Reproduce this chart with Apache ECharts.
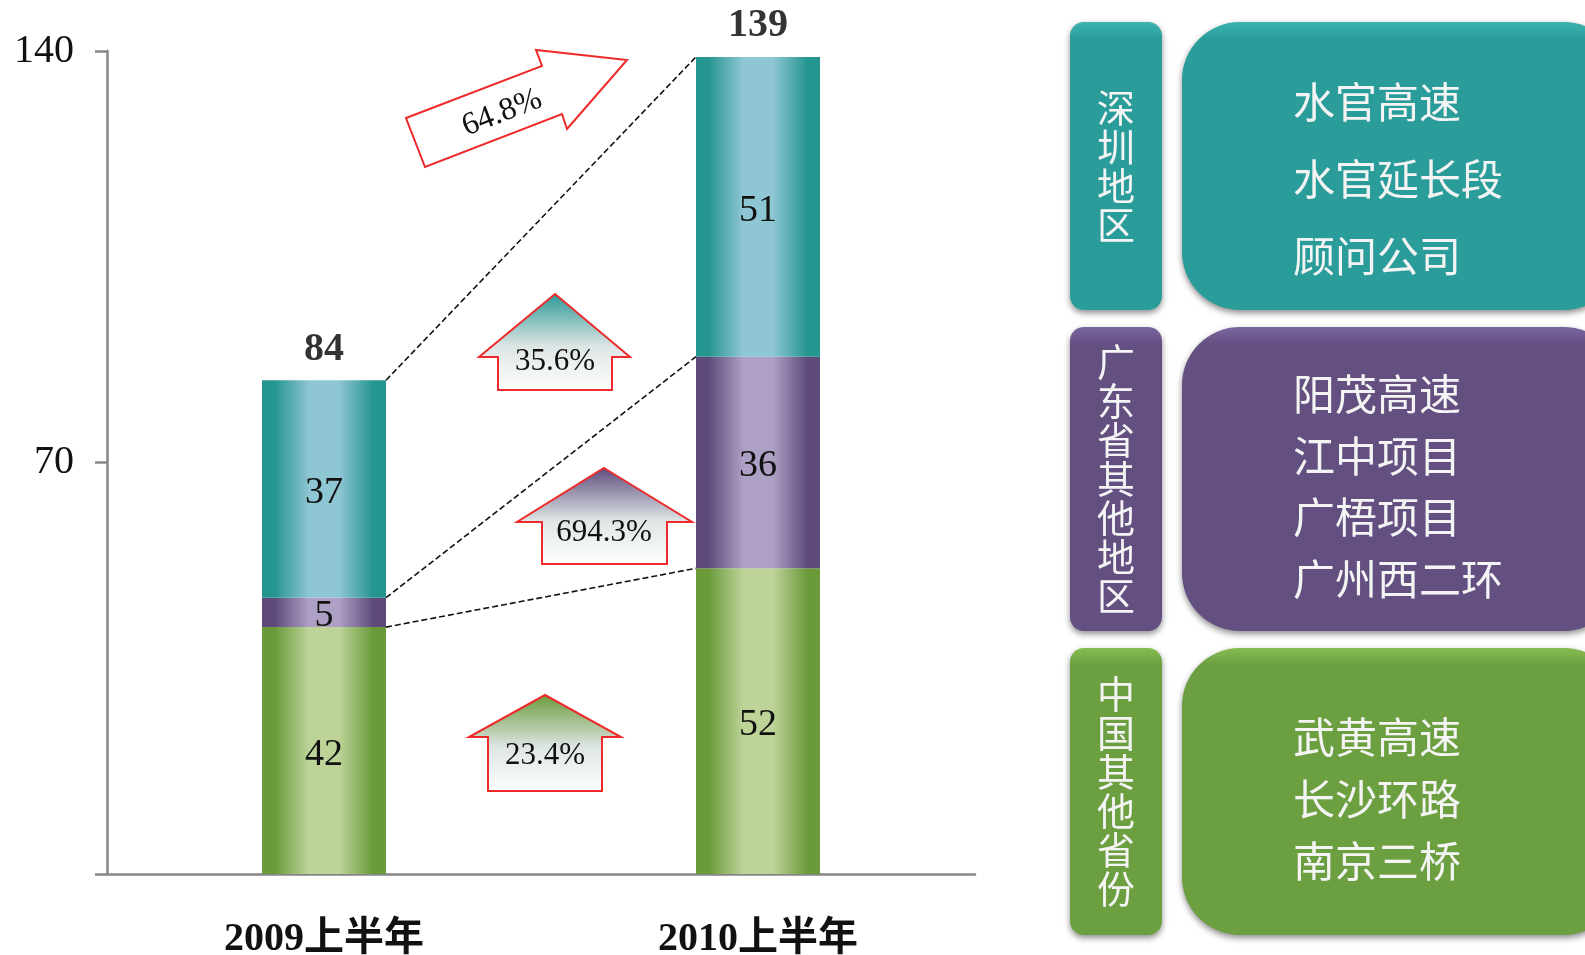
<!DOCTYPE html>
<html>
<head>
<meta charset="utf-8">
<script src="https://cdn.jsdelivr.net/npm/echarts@6/dist/echarts.min.js"></script>
<style>
  html, body { margin: 0; padding: 0; background: #fff; }
  #main { width: 1585px; height: 955px; }
</style>
</head>
<body>
<div id="main"></div>
<script>
// 数据
var categories = ['2009上半年', '2010上半年']
var otherProv = [42, 52]     // 中国其他省份
var guangdong = [5, 36]      // 广东省其他地区
var shenzhen = [37, 51]      // 深圳地区
var yTicks = [0, 70, 140]
var growth = ['23.4%', '694.3%', '35.6%', '64.8%']

var totals = categories.map(function (c, i) { return otherProv[i] + guangdong[i] + shenzhen[i] })
// 连接线: 两根柱子对应位置
var links = [
  [0, totals[0], totals[1]],
  [0, otherProv[0] + guangdong[0], otherProv[1] + guangdong[1]],
  [0, otherProv[0], otherProv[1]]
]

var serif = "'Liberation Serif', 'Noto Sans CJK SC', serif"
var cjk = "'Noto Sans CJK SC', sans-serif"
var barW = 124

var teal = '#2a9d9b', purple = '#634f80', green = '#6c9f40'

function barGrad(dark, light) {
  return {
    type: 'linear', x: 0, y: 0, x2: 1, y2: 0,
    colorStops: [
      { offset: 0, color: dark }, { offset: 0.1, color: dark },
      { offset: 0.38, color: light }, { offset: 0.62, color: light },
      { offset: 0.9, color: dark }, { offset: 1, color: dark }
    ]
  }
}
function arrowGrad(c) {
  return {
    type: 'linear', x: 0, y: 0, x2: 0, y2: 1,
    colorStops: [{ offset: 0, color: c }, { offset: 0.55, color: '#dfe6e6' }, { offset: 1, color: '#ffffff' }]
  }
}
var inLabel = { show: true, position: 'inside', offset: [0, 4], color: '#111', fontFamily: serif, fontSize: 38 }

// 箭头
function upArrow(tx, ty, wy, wl, wr, sl, sr, by, fill, text, ly) {
  return [{
    type: 'polygon', z: 10,
    shape: { points: [[tx, ty], [wr, wy], [sr, wy], [sr, by], [sl, by], [sl, wy], [wl, wy]] },
    style: { fill: arrowGrad(fill), stroke: '#ee2a2a', lineWidth: 2 }
  }, {
    type: 'text', z: 11, x: tx, y: ly,
    style: { text: text, fill: '#111', font: '31px ' + serif, textAlign: 'center', textVerticalAlign: 'middle' }
  }]
}

// 右侧方框
function group(y, h, col, colLight, title, lines, lineTop, gap) {
  var els = []
  var shadow = { shadowBlur: 6, shadowColor: 'rgba(0,0,0,0.45)', shadowOffsetY: 3 }
  var fill = { type: 'linear', x: 0, y: 0, x2: 0, y2: 1, colorStops: [{ offset: 0, color: colLight }, { offset: 0.06, color: col }, { offset: 1, color: col }] }
  els.push({ type: 'rect', shape: { x: 1070, y: y, width: 92, height: h, r: 14 }, style: Object.assign({ fill: fill }, shadow) })
  els.push({ type: 'rect', shape: { x: 1182, y: y, width: 440, height: h, r: 58 }, style: Object.assign({ fill: fill }, shadow) })
  els.push({
    type: 'text', x: 1116, y: y + h / 2,
    style: { text: title.split('').join('\n'), fill: '#f4f4f4', font: '38px ' + cjk, lineHeight: 39, textAlign: 'center', textVerticalAlign: 'middle' }
  })
  lines.forEach(function (t, i) {
    els.push({
      type: 'text', x: 1293, y: lineTop + i * gap,
      style: { text: t, fill: '#f4f4f4', font: '42px ' + cjk, textAlign: 'left', textVerticalAlign: 'middle' }
    })
  })
  return els
}

var graphics = []
graphics = graphics.concat(upArrow(555, 294, 357, 479, 630, 498, 612, 390, '#2a9896', growth[2], 362))
graphics = graphics.concat(upArrow(604, 468, 522, 517, 692, 542, 667, 564, '#5c4a7c', growth[1], 533))
graphics = graphics.concat(upArrow(545, 695, 737, 469, 621, 488, 602, 791, '#6a9a3a', growth[0], 756))
graphics.push({
  type: 'polygon', z: 10,
  shape: { points: [[406, 118], [542, 66], [536, 50], [627, 60], [567, 129], [562, 114], [425, 167]] },
  style: { fill: '#fff', stroke: '#ee2a2a', lineWidth: 2 }
})
graphics.push({
  type: 'text', z: 11, x: 502, y: 113, rotation: 21 * Math.PI / 180,
  style: { text: growth[3], fill: '#111', font: '32px ' + serif, textAlign: 'center', textVerticalAlign: 'middle' }
})
graphics = graphics.concat(group(22, 288, teal, '#3bb3b0', '深圳地区', ['水官高速', '水官延长段', '顾问公司'], 102, 77))
graphics = graphics.concat(group(327, 304, purple, '#7a66a0', '广东省其他地区', ['阳茂高速', '江中项目', '广梧项目', '广州西二环'], 394, 61.7))
graphics = graphics.concat(group(648, 287, green, '#86bd52', '中国其他省份', ['武黄高速', '长沙环路', '南京三桥'], 737, 62))

var chart = echarts.init(document.getElementById('main'))
chart.setOption({
  animation: false,
  grid: { left: 107, right: 610, top: 51, bottom: 81, containLabel: false, outerBoundsMode: 'none' },
  xAxis: {
    type: 'category', data: categories,
    axisLine: { lineStyle: { color: '#868686', width: 2.5 } },
    axisTick: { show: false },
    axisLabel: { color: '#111', fontFamily: serif, fontSize: 40, fontWeight: 'bold', margin: 46 }
  },
  yAxis: {
    type: 'value', min: yTicks[0], max: yTicks[2], interval: yTicks[1] - yTicks[0],
    axisLine: { show: true, lineStyle: { color: '#868686', width: 2.5 } },
    axisTick: { show: true, length: 12, lineStyle: { color: '#868686', width: 2.5 } },
    splitLine: { show: false },
    axisLabel: {
      color: '#111', fontFamily: serif, fontSize: 40, margin: 33,
      formatter: function (v) { return v === 0 ? '' : v }
    }
  },
  series: [
    { name: '中国其他省份', type: 'bar', stack: 'a', barWidth: barW, data: otherProv,
      itemStyle: { color: barGrad('#6a9a3a', '#bdd398') }, label: inLabel },
    { name: '广东省其他地区', type: 'bar', stack: 'a', barWidth: barW, data: guangdong,
      itemStyle: { color: barGrad('#5d4a7a', '#ae9fc4') }, label: inLabel },
    { name: '深圳地区', type: 'bar', stack: 'a', barWidth: barW, data: shenzhen,
      itemStyle: { color: barGrad('#25958f', '#8ec6d3') }, label: inLabel },
    { type: 'scatter', symbolSize: 0, data: totals,
      label: { show: true, position: 'inside', offset: [0, -31], color: '#000', fontFamily: serif, fontSize: 40, fontWeight: 'bold' } },
    { type: 'custom', data: links, encode: { x: 0, y: 1 }, z: 1,
      renderItem: function (params, api) {
        var p1 = api.coord([0, api.value(1)])
        var p2 = api.coord([1, api.value(2)])
        return {
          type: 'line',
          shape: { x1: p1[0] + barW / 2, y1: p1[1], x2: p2[0] - barW / 2, y2: p2[1] },
          style: { stroke: '#111', lineWidth: 1.6, lineDash: [6, 3] }
        }
      } }
  ],
  graphic: graphics
})
</script>
</body>
</html>
